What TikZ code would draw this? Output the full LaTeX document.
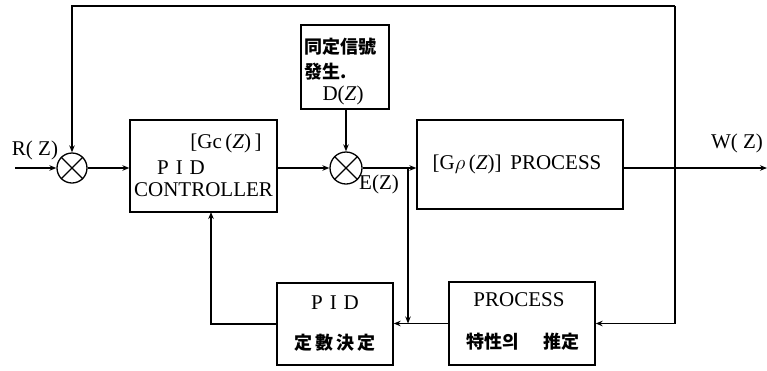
\documentclass[tikz,border=0pt]{standalone}
\usepackage{fontspec}
\setmainfont{Liberation Serif}
\newfontfamily\kr{Noto Sans CJK KR}
\usetikzlibrary{arrows.meta}
\tikzset{
  blk/.style={draw, line width=1.3pt, inner sep=0pt},
  sumj/.style={draw, circle, line width=1.3pt, inner sep=0pt},
  conn/.style={line width=1.2pt},
  arr/.style={line width=1.2pt, -{Stealth[length=7pt,width=5.5pt]}},
  lat/.style={font=\fontsize{21}{24}\selectfont, inner sep=0pt},
  cjk/.style={font=\kr\bfseries\fontsize{18}{21}\selectfont, inner sep=0pt},
}
\begin{document}
\begin{tikzpicture}[x=1pt,y=-1pt]
\useasboundingbox (0,0) rectangle (767,370);
% blocks
\node[blk, minimum width=147pt, minimum height=92pt] (ctrl) at (203.5,166) {};
\node[blk, minimum width=88pt, minimum height=84pt] (dist) at (345,67) {};
\node[blk, minimum width=206pt, minimum height=89pt] (proc) at (520,164.5) {};
\node[blk, minimum width=116pt, minimum height=82pt] (pidc) at (335,324) {};
\node[blk, minimum width=146pt, minimum height=83pt] (est) at (522,323.5) {};
% summing junctions
\node[sumj, minimum size=30pt] (s1) at (72,168) {};
\node[sumj, minimum size=32pt] (s2) at (346,168) {};
\foreach \s in {s1,s2}{
  \draw[conn] (\s.north west) -- (\s.south east);
  \draw[conn] (\s.north east) -- (\s.south west);
}
% texts
\node[lat] (gc) at (226,143) {[Gc\,(\textit{Z})\,]};
\node[lat] (pid1) at (181,168) {P\,\,I\,\,D};
\node[lat] (ctl) at (203.5,190) {CONTROLLER};
\node[cjk, anchor=west] (d1) at (304,47) {同定信號};
\node[cjk, anchor=west] (d2) at (304,72) {發生.};
\node[lat] (d3) at (343,95) {D(\textit{Z})};
\node[lat] (gp) at (517,164) {[G$\rho$\,(\textit{Z})]\ \,PROCESS};
\node[lat] (pid2) at (335,303) {P\,\,I\,\,D};
\node[cjk] (pid3) at (335,343) {定\,數\,決\,定};
\node[lat] (pr2) at (519,300) {PROCESS};
\node[cjk] (pr3) at (523,342) {特性의\quad\, 推定};
\node[lat] (rz) at (35,150) {R( Z)};
\node[lat] (wz) at (737,143) {W( Z)};
\node[lat] (ez) at (379,184) {E(Z)};
% connection points
\coordinate (rin) at (15,168);
\coordinate (wend) at (767,168);
\coordinate (jE) at (408,168);
\coordinate (jout) at (675,168);
\coordinate (top) at (675,6);
\coordinate (cin) at (211,212);
% connectors
\draw[arr] (rin) -- (s1.west);
\draw[arr] (s1.east) -- (s1.east -| ctrl.west);
\draw[arr] (ctrl.east |- s2) -- (s2.west);
\draw[arr] (dist.south -| s2) -- (s2.north);
\draw[arr] (s2.east) -- (s2.east -| proc.west);
\draw[arr] (proc.east |- jout) -- (wend);
\draw[conn] (jout) -- (top);
\draw[arr] (top) -| (s1.north);
\draw[arr] (jE) -- (jE |- est.west);
\draw[arr] (est.west) -- (est.west -| pidc.east);
\draw[arr] (jout) |- (est.east);
\draw[arr] (pidc.west) -| (cin);
\fill (jout) circle (1.8pt);
\end{tikzpicture}
\end{document}
